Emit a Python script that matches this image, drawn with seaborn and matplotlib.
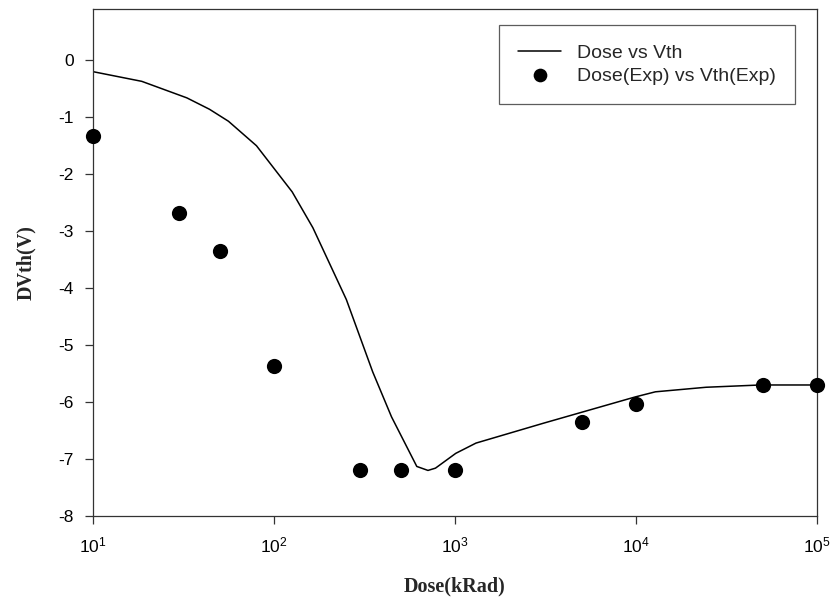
import matplotlib
matplotlib.use("Agg")
import matplotlib.pyplot as plt
import numpy as np
import pandas as pd
import seaborn as sns
from matplotlib.ticker import LogLocator, NullLocator

# simulated curve
sim_dose = [10, 18.6, 33, 44, 56, 80, 126, 164, 251, 351, 446, 615, 709, 780,
            1010, 1306, 3090, 9900, 12800, 24400, 48700, 100000]
sim_vth = [-0.20, -0.37, -0.66, -0.86, -1.07, -1.50, -2.31, -2.94, -4.20, -5.47,
           -6.26, -7.13, -7.20, -7.16, -6.90, -6.72, -6.37, -5.91, -5.82, -5.74,
           -5.70, -5.70]

# experimental points
exp_dose = [10, 30, 50, 100, 300, 500, 1000, 5000, 10000, 50000, 100000]
exp_vth = [-1.33, -2.68, -3.35, -5.37, -7.20, -7.20, -7.20, -6.35, -6.03, -5.70, -5.70]

y_ticks = [0, -1, -2, -3, -4, -5, -6, -7, -8]

sim = pd.DataFrame({"dose": sim_dose, "vth": sim_vth})
exp = pd.DataFrame({"dose": exp_dose, "vth": exp_vth})

sns.set_style("ticks")
plt.rcParams["font.family"] = ["Liberation Sans", "DejaVu Sans"]

fig = plt.figure(figsize=(8.31, 5.99), dpi=100)
ax = fig.add_axes([93 / 831, 1 - 516 / 599, (817 - 93) / 831, (516 - 9) / 599])

sns.lineplot(data=sim, x="dose", y="vth", ax=ax, color="black", linewidth=1.1,
             label="Dose vs Vth")
sns.scatterplot(data=exp, x="dose", y="vth", ax=ax, color="black", s=120,
                edgecolor="black", linewidth=0, label="Dose(Exp) vs Vth(Exp)",
                zorder=3, clip_on=False)

ax.set_xscale("log")
ax.set_xlim(10, 1e5)
ax.set_ylim(-8, 0.9)
ax.xaxis.set_major_locator(LogLocator(base=10, numticks=10))
ax.xaxis.set_minor_locator(NullLocator())
ax.set_yticks(y_ticks)
ax.set_yticklabels([str(t) for t in y_ticks])

for side in ["top", "right", "left", "bottom"]:
    ax.spines[side].set_visible(True)
    ax.spines[side].set_linewidth(0.9)
    ax.spines[side].set_color("#333333")
ax.tick_params(axis="both", direction="out", length=6, width=0.9,
               labelsize=12.5, colors="#333333", labelcolor="black", pad=8)

ax.set_xlabel("Dose(kRad)", family="Liberation Serif", fontweight="bold",
              fontsize=14.5, labelpad=15)
ax.set_ylabel("DVth(V)", family="Liberation Serif", fontweight="bold",
              fontsize=14.5, labelpad=16)

leg = ax.legend(loc="upper right", bbox_to_anchor=(795 / 831, 1 - 25 / 599),
                bbox_transform=fig.transFigure, fontsize=14, frameon=True,
                fancybox=False, edgecolor="#333333", borderpad=1.0,
                handlelength=2.2, labelspacing=0.25, handletextpad=0.8,
                borderaxespad=0, markerscale=0.9)
leg.get_frame().set_linewidth(0.9)

fig.savefig("out.png", dpi=100)
